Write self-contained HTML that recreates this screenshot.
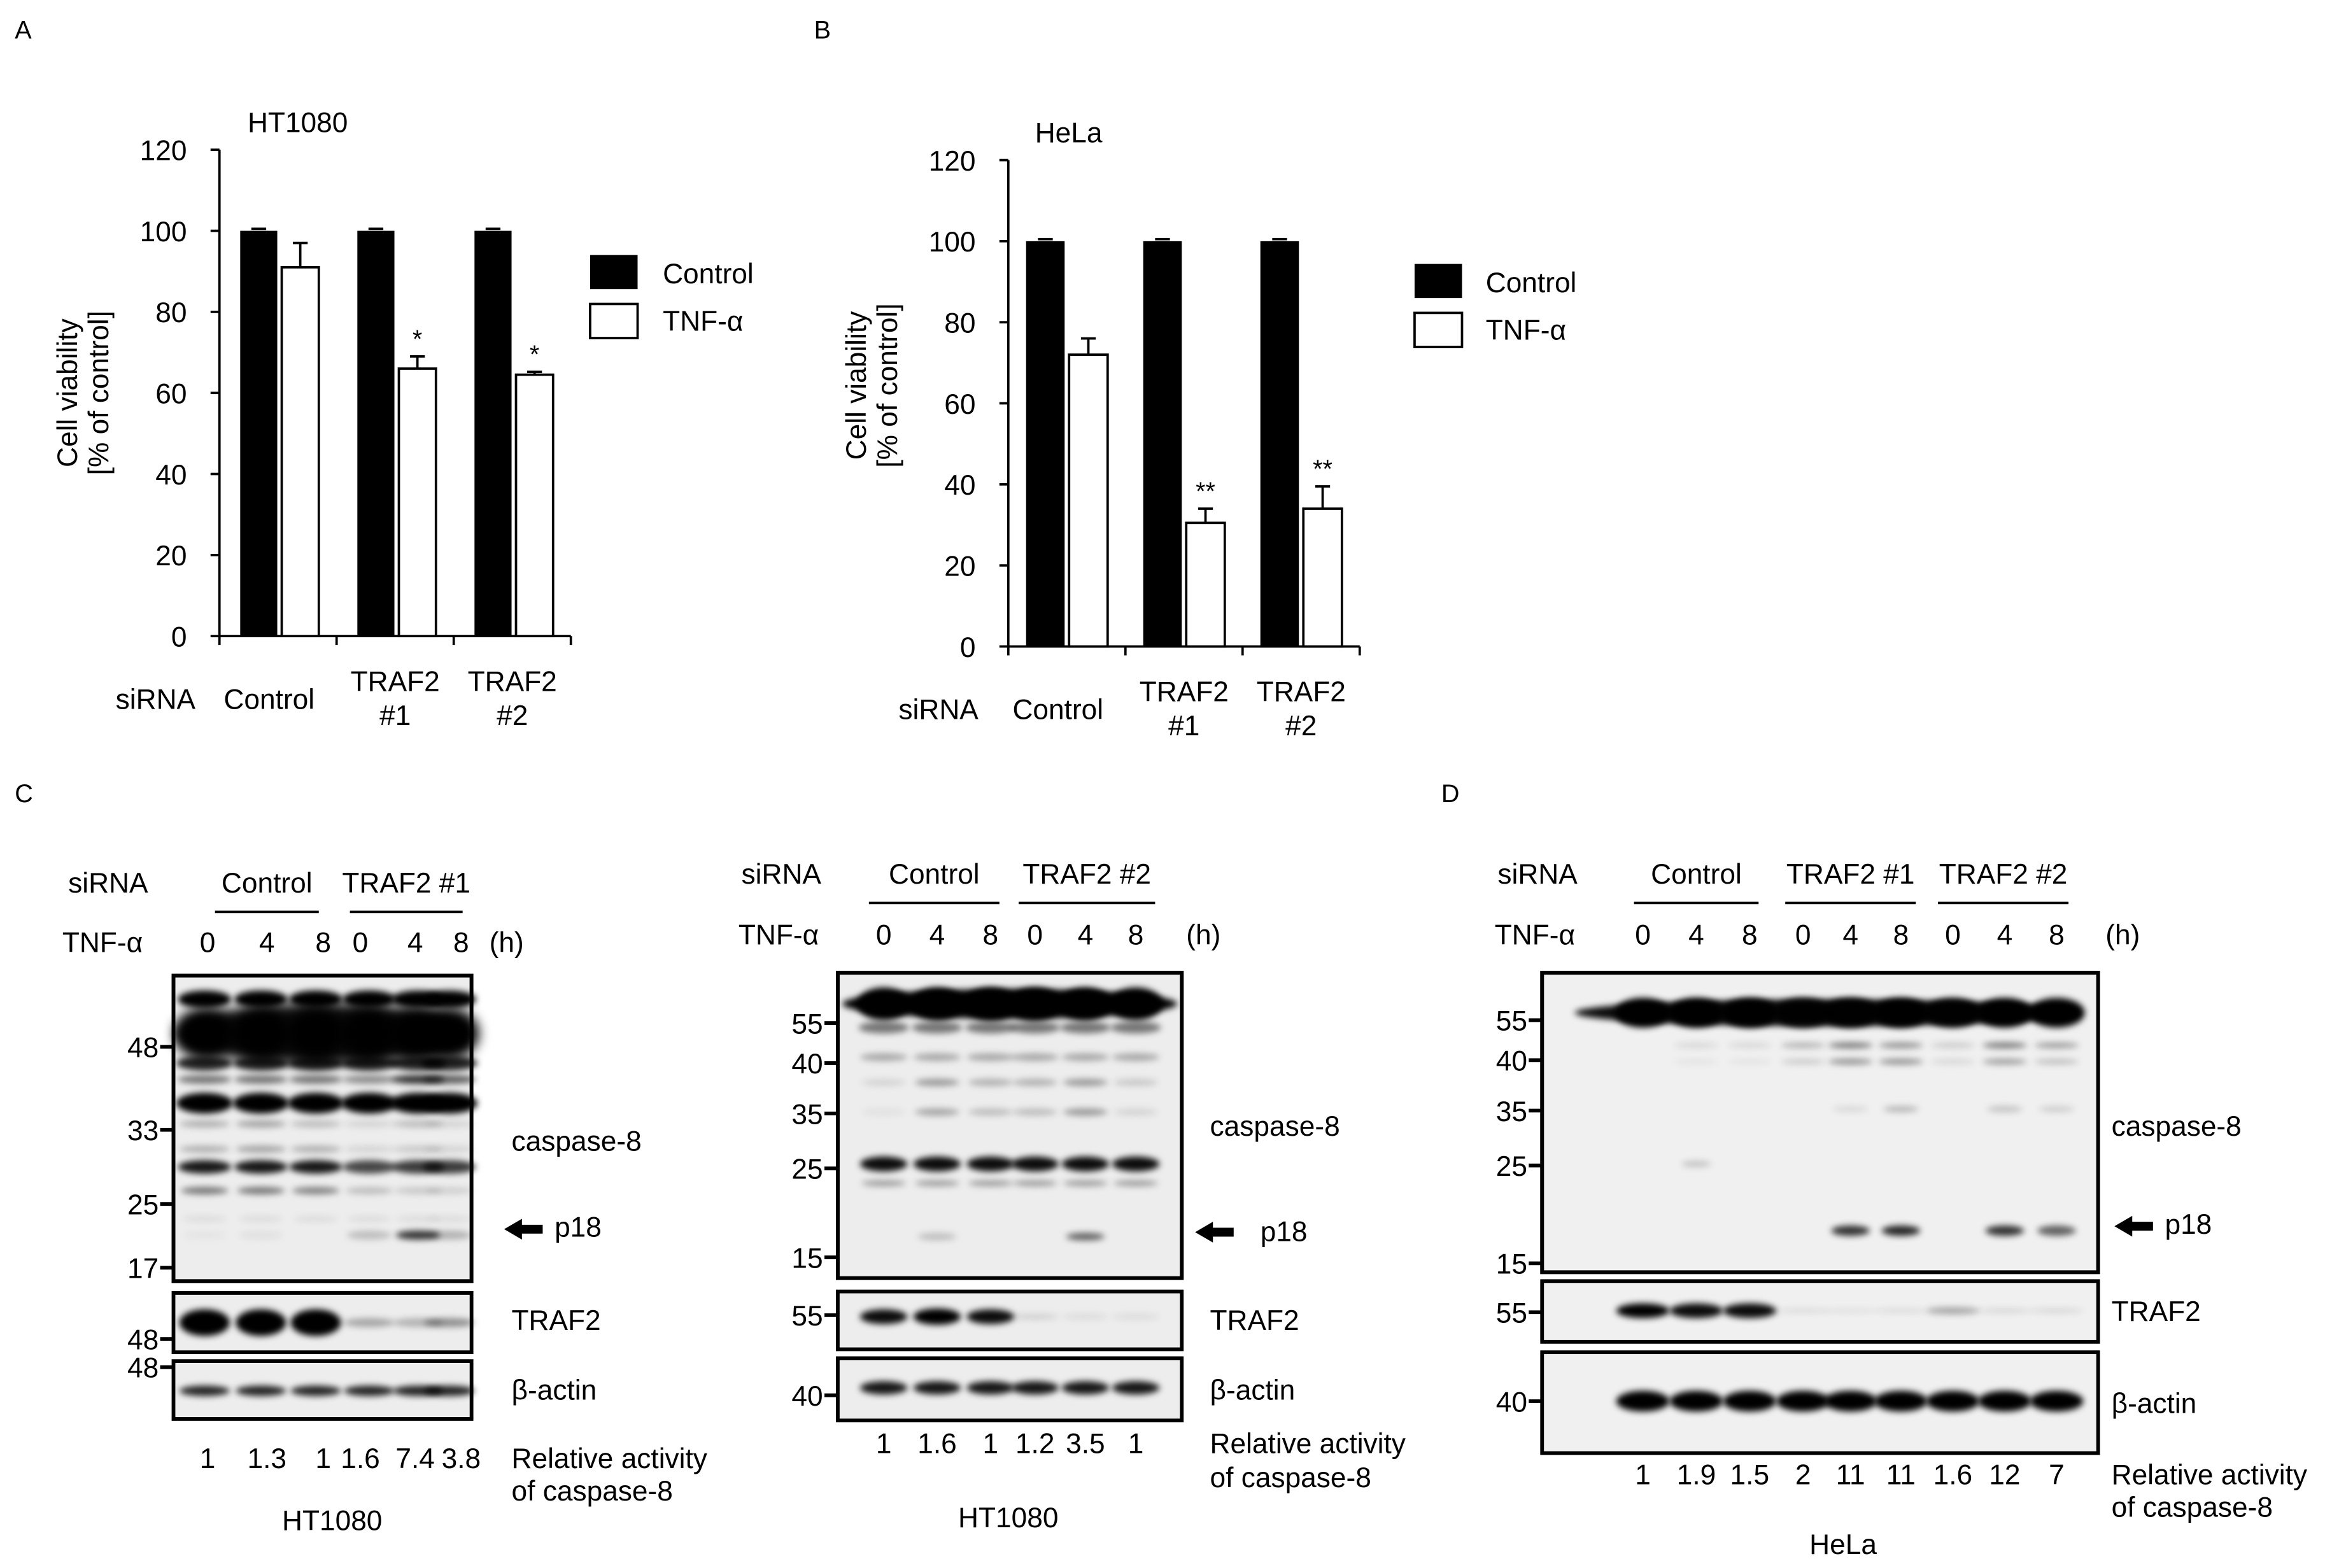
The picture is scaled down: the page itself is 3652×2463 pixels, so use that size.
<!DOCTYPE html>
<html><head><meta charset="utf-8">
<style>
html,body{margin:0;padding:0;background:#fff}
svg{display:block}
text{font-family:"Liberation Sans",Arial,sans-serif;fill:#000}
</style></head>
<body>
<svg id="fig" width="3652" height="2463" viewBox="0 0 1568 1057.5" preserveAspectRatio="none" xmlns="http://www.w3.org/2000/svg">
<defs>
<filter id="bl" x="-50%" y="-300%" width="200%" height="700%"><feGaussianBlur stdDeviation="2.2"/></filter>
<filter id="bl2" x="-50%" y="-100%" width="200%" height="300%"><feGaussianBlur stdDeviation="4"/></filter>
</defs>
<g id="chartA"></g>
<g id="chartB"></g>
<g id="blots"></g>
</svg>
<script>
const NS="http://www.w3.org/2000/svg";
const FS=19;
function el(parent,tag,attrs,txt){const e=document.createElementNS(NS,tag);for(const k in attrs)e.setAttribute(k,attrs[k]);if(txt!==undefined)e.textContent=txt;parent.appendChild(e);return e;}

// ---------- Chart data ----------
const categories=["Control","TRAF2 #1","TRAF2 #2"];
const yTicks=[0,20,40,60,80,100,120];
const ctrlA=[100,100,100];
const ctrlErrA=[0.5,0.5,0.5];
const tnfA=[91,66,64.5];
const tnfErrA=[6,3,0.7];
const starsA=["","*","*"];
const ctrlB=[100,100,100];
const ctrlErrB=[0.5,0.5,0.5];
const tnfB=[72,30.5,34];
const tnfErrB=[4,3.5,5.5];
const starsB=["","**","**"];

function drawChart(g,cfg){
  const y=v=>cfg.y0-(v/120)*(cfg.y0-cfg.y120);
  const ax=el(g,'line',{x1:cfg.ax,y1:cfg.y120,x2:cfg.ax,y2:cfg.y0,stroke:'#000','stroke-width':1.6});
  
  yTicks.forEach(t=>{
    const tk=el(g,'line',{x1:cfg.ax-6,y1:y(t),x2:cfg.ax,y2:y(t),stroke:'#000','stroke-width':1.6});
    
    const tl=el(g,'text',{x:cfg.ax-22,y:y(t)+7,'font-size':FS,'text-anchor':'end'},String(t));
    
  });
  const xa=el(g,'line',{x1:cfg.ax,y1:cfg.y0,x2:cfg.ax+cfg.gw*3,y2:cfg.y0,stroke:'#000','stroke-width':1.6});
  
  for(let i=0;i<=3;i++){
    const tk=el(g,'line',{x1:cfg.ax+cfg.gw*i,y1:cfg.y0,x2:cfg.ax+cfg.gw*i,y2:cfg.y0+6,stroke:'#000','stroke-width':1.6});
    
  }
  categories.forEach((c,i)=>{
    const gx=cfg.ax+cfg.gw*i;
    const bx=gx+cfg.off, wx=bx+cfg.bw+3;
    const b=el(g,'rect',{x:bx,y:y(cfg.ctrl[i]),width:cfg.bw,height:y(0)-y(cfg.ctrl[i]),fill:'#000'});
    
    const w=el(g,'rect',{x:wx,y:y(cfg.tnf[i]),width:cfg.bw,height:y(0)-y(cfg.tnf[i]),fill:'#fff',stroke:'#000','stroke-width':1.6});
    
    const ex=wx+cfg.bw/2, et=y(cfg.tnf[i]+cfg.tnfErr[i]);
    const e1=el(g,'path',{d:`M${ex},${y(cfg.tnf[i])}V${et}M${ex-5},${et}H${ex+5}`,stroke:'#000','stroke-width':1.6,fill:'none'});
    
    const cx=bx+cfg.bw/2, ct=y(cfg.ctrl[i]+cfg.ctrlErr[i]);
    const e2=el(g,'path',{d:`M${cx-5},${ct}H${cx+5}`,stroke:'#000','stroke-width':1.6});
    
    if(cfg.stars[i]){const s=el(g,'text',{x:ex,y:et-6,'font-size':17,'text-anchor':'middle'},cfg.stars[i]);
      }
    const mid=gx+cfg.gw/2;
    const parts=c.split(' ');
    if(parts.length===1){const t=el(g,'text',{x:mid-6,y:cfg.y0+49,'font-size':FS,'text-anchor':'middle'},c);
      }
    else{const t=el(g,'text',{x:mid,y:cfg.y0+37,'font-size':FS,'text-anchor':'middle'},parts[0]);
      
      const t2=el(g,'text',{x:mid,y:cfg.y0+60,'font-size':FS,'text-anchor':'middle'},parts[1]);
      }
  });
}

const gA=document.getElementById('chartA');
drawChart(gA,{ax:148,y0:429,y120:101,gw:79,off:14,bw:25,ctrl:ctrlA,ctrlErr:ctrlErrA,tnf:tnfA,tnfErr:tnfErrA,stars:starsA});
const gB=document.getElementById('chartB');
drawChart(gB,{ax:680,y0:436,y120:108,gw:79,off:12,bw:26,ctrl:ctrlB,ctrlErr:ctrlErrB,tnf:tnfB,tnfErr:tnfErrB,stars:starsB});

function txt(g,x,y,s,name,size,anchor,extra){const t=el(g,'text',Object.assign({x:x,y:y,'font-size':size||FS,'text-anchor':anchor||'start'},extra||{}),s);
  return t;}
txt(gA,10,26,'A','panel-label-a',17);
txt(gA,167,89,'HT1080','chart-a-title');
txt(gA,0,0,'Cell viability','y-axis-title',FS,'middle',{transform:'translate(52,265) rotate(-90)'});
txt(gA,0,0,'[% of control]','y-axis-title',FS,'middle',{transform:'translate(73,265) rotate(-90)'});
txt(gA,78,478,'siRNA','x-axis-title');
txt(gB,549,26,'B','panel-label-b',17);
txt(gB,698,96,'HeLa','chart-b-title');
txt(gB,0,0,'Cell viability','y-axis-title',FS,'middle',{transform:'translate(584,260) rotate(-90)'});
txt(gB,0,0,'[% of control]','y-axis-title',FS,'middle',{transform:'translate(605,260) rotate(-90)'});
txt(gB,606,485,'siRNA','x-axis-title');
[[gA,398,172,447],[gB,954,178,1002]].forEach(([g,x,y0,tx])=>{
  const r1=el(g,'rect',{x:x,y:y0,width:32,height:23,fill:'#000'});
  txt(g,tx,y0+19,'Control','legend-entry-control');
  const r2=el(g,'rect',{x:x,y:y0+33,width:32,height:23,fill:'#fff',stroke:'#000','stroke-width':1.6});
  txt(g,tx,y0+51,'TNF-α','legend-entry-tnf');
});

// ---------- Blots ----------
const gb=document.getElementById('blots');
txt(gb,10,541,'C','panel-label-c',17);
txt(gb,972,541,'D','panel-label-d',17);
function band(g,x,y,w,h,op,f){if(op<=0)return;const e=el(g,'ellipse',{cx:x,cy:y,rx:w/2,ry:h/2,fill:'#000','fill-opacity':op,filter:'url(#'+(f||'bl')+')'});
  }
function box(g,x,y,w,h,fill){const r=el(g,'rect',{x:x,y:y,width:w,height:h,fill:fill||'#ededed',stroke:'#000','stroke-width':2.5});
  return r;}
function frame(g,x,y,w,h){const r=el(g,'rect',{x:x,y:y,width:w,height:h,fill:'none',stroke:'#000','stroke-width':2.5});}
function marker(g,x,y,s){const l=el(g,'line',{x1:x-9,y1:y,x2:x,y2:y,stroke:'#000','stroke-width':2.5});
  if(s)txt(g,x-10,y+7,s,'mw-marker-label',FS,'end');}
function arrow(g,x,y){const p=el(g,'path',{d:`M${x},${y}l12,-7v4h14v6h-14v4z`,fill:'#000'});}
function header(g,cfg){
  txt(g,cfg.sx,cfg.sy,'siRNA','sirna-label');
  txt(g,cfg.tx,cfg.ty,'TNF-α','tnf-label');
  cfg.groups.forEach(gr=>{txt(g,gr[0],cfg.sy,gr[1],'group-label',FS,'middle');
    const l=el(g,'line',{x1:gr[0]-gr[2],y1:cfg.sy+13,x2:gr[0]+gr[2],y2:cfg.sy+13,stroke:'#000','stroke-width':1.6});});
  cfg.lanes.forEach((x,i)=>txt(g,x,cfg.ty,cfg.times[i],'time-label',FS,'middle'));
  txt(g,cfg.hx,cfg.ty,'(h)','hours-unit');
}

// Blot C1
(function(){
  const g=el(gb,'g',{});
  header(g,{sx:46,sy:602,tx:42,ty:642,hx:330,lanes:[140,180,218,243,280,311],times:['0','4','8','0','4','8'],groups:[[180,'Control',35],[274,'TRAF2 #1',38]]});
  box(g,117,658,201,206);
  const lx=[138,176,213,249,282,303];
  band(g,217,697,196,40,0.95,'bl2');
  lx.forEach((x,i)=>{
    band(g,x,674,36,12,1);
    band(g,x,697,40,34,1,'bl2');
    band(g,x,717,38,10,0.85);
    band(g,x,728,36,6,[0.5,0.5,0.5,0.4,0.8,0.6][i]);
    band(g,x,744,38,14,1);
    band(g,x,758,34,5,[0.25,0.3,0.2,0.1,0.2,0.1][i]);
    band(g,x,775,34,5,[0.25,0.3,0.25,0.1,0.15,0.1][i]);
    band(g,x,787,36,9,[0.9,0.9,0.9,0.7,0.75,0.75][i]);
    band(g,x,803,32,5,[0.5,0.5,0.45,0.2,0.15,0.12][i]);
    band(g,x,822,30,4,0.08);
    band(g,x,833,30,6,[0.03,0.05,0,0.2,0.8,0.25][i]);
  });
  frame(g,117,658,201,206);
  marker(g,117,706,'48');marker(g,117,762,'33');marker(g,117,812,'25');marker(g,117,855,'17');
  box(g,117,872,201,40);
  lx.forEach((x,i)=>band(g,x,892,34,[18,18,18,6,6,6][i],[1,1,1,0.3,0.25,0.4][i]));
  marker(g,117,903,'48');
  box(g,117,918,201,39);
  lx.forEach((x,i)=>band(g,x,938,34,7,0.85));
  marker(g,117,922,'48');
  txt(g,345,776,'caspase-8','protein-label');
  txt(g,374,834,'p18','p18-label');arrow(g,340,829);
  txt(g,345,897,'TRAF2','protein-label');
  txt(g,345,944,'β-actin','protein-label');
  ['1','1.3','1','1.6','7.4','3.8'].forEach((v,i)=>txt(g,[140,180,218,243,280,311][i],990,v,'relative-activity-value',FS,'middle'));
  txt(g,345,990,'Relative  activity','relative-activity-label');
  txt(g,345,1012,'of caspase-8','relative-activity-label');
  txt(g,224,1032,'HT1080','cell-line-label',FS,'middle');
})();
// Blot C2
(function(){
  const g=el(gb,'g',{});
  const lx=[596,632,668,698,732,766];
  header(g,{sx:500,sy:596,tx:498,ty:637,hx:800,lanes:lx,times:['0','4','8','0','4','8'],groups:[[630,'Control',44],[733,'TRAF2 #2',46]]});
  box(g,565,656,232,206);
  band(g,681,677,226,20,1);
  lx.forEach((x,i)=>{
    band(g,x,677,36,22,1);
    band(g,x,693,34,8,0.5);
    band(g,x,713,32,5,0.3);
    band(g,x,730,30,5,[0.1,0.35,0.25,0.25,0.35,0.15][i]);
    band(g,x,750,30,5,[0.05,0.3,0.2,0.2,0.35,0.1][i]);
    band(g,x,785,32,10,0.95);
    band(g,x,798,30,4,0.35);
    band(g,x,834,26,5,[0,0.2,0,0,0.6,0][i]);
  });
  frame(g,565,656,232,206);
  marker(g,565,690,'55');marker(g,565,717,'40');marker(g,565,751,'35');marker(g,565,788,'25');marker(g,565,848,'15');
  box(g,565,871,232,39);
  lx.forEach((x,i)=>band(g,x,888,32,[10,11,10,4,4,4][i],[0.95,1,0.95,0.12,0.08,0.08][i]));
  marker(g,565,887,'55');
  box(g,565,916,232,42);
  lx.forEach((x,i)=>band(g,x,936,32,9,0.9));
  marker(g,565,941,'40');
  txt(g,816,766,'caspase-8','protein-label');
  txt(g,850,837,'p18','p18-label');arrow(g,806,831);
  txt(g,816,897,'TRAF2','protein-label');
  txt(g,816,944,'β-actin','protein-label');
  ['1','1.6','1','1.2','3.5','1'].forEach((v,i)=>txt(g,lx[i],980,v,'relative-activity-value',FS,'middle'));
  txt(g,816,980,'Relative  activity','relative-activity-label');
  txt(g,816,1003,'of caspase-8','relative-activity-label');
  txt(g,680,1030,'HT1080','cell-line-label',FS,'middle');
})();
// Blot D
(function(){
  const g=el(gb,'g',{});
  const lx=[1108,1144,1180,1216,1248,1282,1317,1352,1387];
  header(g,{sx:1010,sy:596,tx:1008,ty:637,hx:1420,lanes:lx,times:['0','4','8','0','4','8','0','4','8'],groups:[[1144,'Control',42],[1248,'TRAF2 #1',44],[1351,'TRAF2 #2',44]]});
  box(g,1040,656,375,202,'#f0f0f0');
  band(g,1232,683,340,18,0.95);
  lx.forEach((x,i)=>{
    band(g,x,683,38,20,[1,1,1,0.9,0.95,1,0.95,1,1][i]);
    band(g,x,705,30,4,[0,0.1,0.1,0.25,0.5,0.4,0.15,0.5,0.35][i]);
    band(g,x,716,30,4,[0,0.05,0.05,0.15,0.4,0.4,0.1,0.35,0.2][i]);
    band(g,x,748,24,4,[0,0,0,0,0.1,0.25,0,0.2,0.15][i]);
    band(g,x,785,20,4,[0,0.2,0,0,0,0,0,0,0][i]);
    band(g,x,830,26,7,[0,0,0,0,0.8,0.85,0,0.8,0.6][i]);
  });
  frame(g,1040,656,375,202);
  marker(g,1040,688,'55');marker(g,1040,715,'40');marker(g,1040,749,'35');marker(g,1040,786,'25');marker(g,1040,852,'15');
  box(g,1040,864,375,41,'#f0f0f0');
  lx.forEach((x,i)=>band(g,x,884,36,[10,10,10,3,3,3,5,3,3][i],[1,0.95,0.95,0.1,0.08,0.1,0.3,0.12,0.12][i]));
  marker(g,1040,885,'55');
  box(g,1040,912,375,68,'#f0f0f0');
  lx.forEach((x,i)=>band(g,x,945,36,14,1));
  marker(g,1040,945,'40');
  txt(g,1424,766,'caspase-8','protein-label');
  txt(g,1460,832,'p18','p18-label');arrow(g,1426,827);
  txt(g,1424,891,'TRAF2','protein-label');
  txt(g,1424,953,'β-actin','protein-label');
  ['1','1.9','1.5','2','11','11','1.6','12','7'].forEach((v,i)=>txt(g,lx[i],1001,v,'relative-activity-value',FS,'middle'));
  txt(g,1424,1001,'Relative activity','relative-activity-label');
  txt(g,1424,1023,'of caspase-8','relative-activity-label');
  txt(g,1243,1048,'HeLa','cell-line-label',FS,'middle');
})();
</script>
</body></html>
